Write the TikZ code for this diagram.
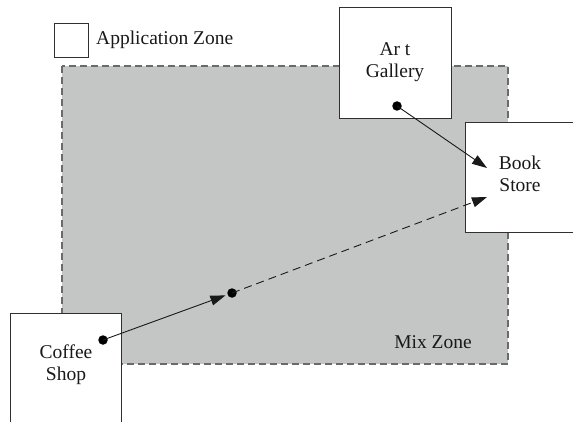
\documentclass[tikz,border=0pt]{standalone}
\usepackage{fontspec}
\setmainfont{Liberation Serif}
\usetikzlibrary{arrows.meta}
\definecolor{zonegray}{HTML}{C4C6C5}
\definecolor{zoneedge}{HTML}{6A6A6A}
\definecolor{boxedge}{HTML}{303030}
\begin{document}
\begin{tikzpicture}[x=1pt,y=-1pt,
  every node/.style={font=\fontsize{19.5}{22}\selectfont, text=black!90},
  placebox/.style={draw=boxedge, line width=0.9pt, fill=white, align=center,
    minimum width=#1, minimum height=111pt, inner sep=0pt},
  legendbox/.style={draw=boxedge, line width=0.9pt, fill=white,
    minimum width=34pt, minimum height=34pt, inner sep=0pt},
  zone/.style={fill=zonegray, draw=zoneedge, line width=1.3pt, dash pattern=on 7pt off 4pt},
  dot/.style={circle, fill=black, inner sep=0pt, minimum size=9.5pt},
  flow/.style={draw=black!90, line width=0.9pt, -{Triangle[length=15pt,width=10pt]}},
  flowdashed/.style={flow, dash pattern=on 8pt off 5pt}
]
\useasboundingbox (0,0) rectangle (573,422);
\clip (0,0) rectangle (573,422);

% mix zone area
\path[zone] (62,66) rectangle (508,364);
\node (mixlabel) at (433,342) {Mix Zone};

% legend
\node[legendbox] (legend) at (71,40) {};
\node[anchor=west, inner sep=0pt] (legendlabel) at (96,40) {Application Zone};

% application zones (the store and the coffee shop run past the page edge)
\node[placebox=112pt] (gallery) at (395,62.5) {Ar t\\Gallery};
\node[placebox=120pt, minimum height=110pt] (store) at (525,177) {};
\node[align=center] (storelabel) at (520,174) {Book\\Store};
\node[placebox=111pt, minimum height=130pt] (coffee) at (65.5,378) {};
\node[align=center] (coffeelabel) at (66,364.5) {Coffee\\Shop};

% trajectory points
\node[dot] (gdot) at (397,106) {};
\node[dot] (cdot) at (103,340) {};
\node[dot] (mdot) at (232,293) {};
\coordinate (storein1) at (487,168);
\coordinate (storein2) at (487,197);

% movements
\draw[flow] (gdot.center) -- (storein1);
\draw[flow, shorten >=7pt] (cdot.center) -- (mdot.center);
\draw[flowdashed] (mdot.center) -- (storein2);
\end{tikzpicture}
\end{document}
